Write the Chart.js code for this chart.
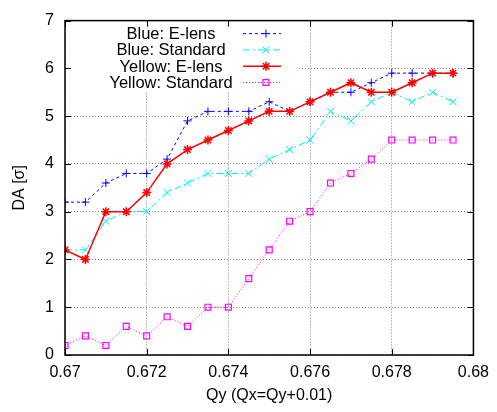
<!DOCTYPE html>
<html>
<head>
<meta charset="utf-8">
<script src="https://cdn.jsdelivr.net/npm/chart.js@4.4.1/dist/chart.umd.min.js"></script>
<style>
  html, body { margin: 0; padding: 0; background: #fff; }
</style>
</head>
<body>
<canvas id="chart" width="497" height="412"></canvas>
<script>
// tune scan, Qy (Qx = Qy + 0.01)
const qy = [0.670, 0.6705, 0.671, 0.6715, 0.672, 0.6725, 0.673, 0.6735, 0.674, 0.6745,
            0.675, 0.6755, 0.676, 0.6765, 0.677, 0.6775, 0.678, 0.6785, 0.679, 0.6795];

// dynamic aperture [sigma]
const blueElens   = [3.2, 3.2, 3.6, 3.8, 3.8, 4.1, 4.9, 5.1, 5.1, 5.1, 5.3, 5.1, 5.3, 5.5, 5.5, 5.7, 5.9, 5.9, 5.9, 5.9];
const blueStd     = [2.2, 2.2, 2.8, 3.0, 3.0, 3.4, 3.6, 3.8, 3.8, 3.8, 4.1, 4.3, 4.5, 5.1, 4.9, 5.3, 5.5, 5.3, 5.5, 5.3];
const yellowElens = [2.2, 2.0, 3.0, 3.0, 3.4, 4.0, 4.3, 4.5, 4.7, 4.9, 5.1, 5.1, 5.3, 5.5, 5.7, 5.5, 5.5, 5.7, 5.9, 5.9];
const yellowStd   = [0.2, 0.4, 0.2, 0.6, 0.4, 0.8, 0.6, 1.0, 1.0, 1.6, 2.2, 2.8, 3.0, 3.6, 3.8, 4.1, 4.5, 4.5, 4.5, 4.5];

const seriesNames = ['Blue: E-lens', 'Blue: Standard', 'Yellow: E-lens', 'Yellow: Standard'];

const xTicks = [0.67, 0.672, 0.674, 0.676, 0.678, 0.68];
const yTicks = [0, 1, 2, 3, 4, 5, 6, 7];

const FONT = 'Liberation Sans, Arial, sans-serif';

function pts(vals) {
  return vals.map((v, i) => ({ x: qy[i], y: v }));
}

// legend drawn gnuplot style: label, then line sample with marker
const keyBox = {
  id: 'keyBox',
  afterDatasetsDraw(c) {
    const ctx = c.ctx, a = c.chartArea;
    ctx.save();
    ctx.fillStyle = '#fff';
    ctx.fillRect(a.left + 1, a.top + 1, 298 - a.left, 70);
    ctx.font = '16.5px ' + FONT;
    ctx.textAlign = 'center';
    ctx.textBaseline = 'middle';
    c.data.datasets.forEach((ds, i) => {
      const yy = a.top + 13 + i * 16.3;
      ctx.fillStyle = '#000';
      ctx.fillText(ds.label, 171, yy + 1);
      ctx.strokeStyle = ds.borderColor;
      ctx.lineWidth = ds.borderWidth;
      ctx.setLineDash(ds.borderDash || []);
      ctx.beginPath();
      ctx.moveTo(243, yy);
      ctx.lineTo(281, yy);
      ctx.stroke();
      ctx.setLineDash([]);
      ctx.strokeStyle = ds.pointBorderColor;
      ctx.fillStyle = ds.pointBackgroundColor;
      ctx.lineWidth = ds.pointBorderWidth;
      Chart.helpers.drawPoint(ctx, {
        pointStyle: ds.pointStyle, radius: ds.pointRadius, borderWidth: ds.pointBorderWidth, rotation: 0
      }, 266, yy);
    });
    ctx.restore();
  }
};

// frame with inward ticks on all four sides
const frameTicks = {
  id: 'frameTicks',
  afterDraw(c) {
    const ctx = c.ctx, a = c.chartArea, x = c.scales.x, y = c.scales.y;
    ctx.save();
    ctx.strokeStyle = '#000';
    ctx.lineWidth = 1;
    ctx.beginPath();
    x.ticks.forEach(t => {
      const px = Math.round(x.getPixelForValue(t.value)) + 0.5;
      ctx.moveTo(px, a.bottom); ctx.lineTo(px, a.bottom - 6);
      ctx.moveTo(px, a.top); ctx.lineTo(px, a.top + 6);
    });
    y.ticks.forEach(t => {
      const py = Math.round(y.getPixelForValue(t.value)) + 0.5;
      ctx.moveTo(a.left, py); ctx.lineTo(a.left + 6, py);
      ctx.moveTo(a.right, py); ctx.lineTo(a.right - 6, py);
    });
    ctx.stroke();
    ctx.lineWidth = 1.5;
    ctx.strokeRect(a.left, a.top, a.right - a.left, a.bottom - a.top);
    ctx.restore();
  }
};

const chart = document.querySelector('#chart').getContext('2d');

new Chart(chart, {
  type: 'line',
  data: {
    datasets: [
      {
        label: seriesNames[0],
        data: pts(blueElens),
        borderColor: '#0000ff',
        borderWidth: 1,
        borderDash: [3, 3],
        pointStyle: 'cross',
        pointRadius: 4,
        pointBorderWidth: 1,
        pointBorderColor: '#0000ff',
        pointBackgroundColor: '#0000ff',
        order: 4
      },
      {
        label: seriesNames[1],
        data: pts(blueStd),
        borderColor: '#00eeee',
        borderWidth: 1,
        borderDash: [7, 3, 2, 3],
        pointStyle: 'crossRot',
        pointRadius: 5,
        pointBorderWidth: 1,
        pointBorderColor: '#00eeee',
        pointBackgroundColor: '#00eeee',
        order: 3
      },
      {
        label: seriesNames[2],
        data: pts(yellowElens),
        borderColor: '#ff0000',
        borderWidth: 1.5,
        pointStyle: 'star',
        pointRadius: 4.5,
        pointBorderWidth: 1.5,
        pointBorderColor: '#ff0000',
        pointBackgroundColor: '#ff0000',
        order: 2
      },
      {
        label: seriesNames[3],
        data: pts(yellowStd),
        borderColor: '#ff00ff',
        borderWidth: 1,
        borderDash: [1, 2],
        pointStyle: 'rect',
        pointRadius: 4.2,
        pointBorderWidth: 1.2,
        pointBorderColor: '#ff00ff',
        pointBackgroundColor: 'rgba(0,0,0,0)',
        order: 1
      }
    ]
  },
  options: {
    responsive: false,
    animation: false,
    layout: { padding: { top: 12, right: 17, left: 0, bottom: 0 } },
    plugins: {
      legend: { display: false },
      tooltip: { enabled: false }
    },
    elements: { line: { tension: 0 } },
    scales: {
      x: {
        type: 'linear',
        min: 0.67,
        max: 0.68,
        afterFit: s => { s.height = 57; },
        afterBuildTicks: s => { s.ticks = xTicks.map(v => ({ value: v })); },
        ticks: {
          color: '#000',
          font: { family: FONT, size: 16 },
          padding: 8,
          maxRotation: 0,
          callback: v => String(+v.toFixed(3))
        },
        grid: { color: '#808080', lineWidth: 1, drawTicks: false },
        border: { display: false, dash: [1, 2] },
        title: {
          display: true,
          text: 'Qy (Qx=Qy+0.01)',
          color: '#000',
          font: { family: FONT, size: 16 },
          padding: { top: 0, bottom: 7 }
        }
      },
      y: {
        type: 'linear',
        min: 0,
        max: 7,
        afterFit: s => { s.width = 65; },
        afterBuildTicks: s => { s.ticks = yTicks.map(v => ({ value: v })); },
        ticks: {
          color: '#000',
          font: { family: FONT, size: 16 },
          padding: 11
        },
        grid: { color: '#808080', lineWidth: 1, drawTicks: false },
        border: { display: false, dash: [1, 2] },
        title: {
          display: true,
          text: 'DA [σ]',
          color: '#000',
          font: { family: FONT, size: 16 },
          padding: { top: 10, bottom: 0 }
        }
      }
    }
  },
  plugins: [keyBox, frameTicks]
});
</script>
</body>
</html>
